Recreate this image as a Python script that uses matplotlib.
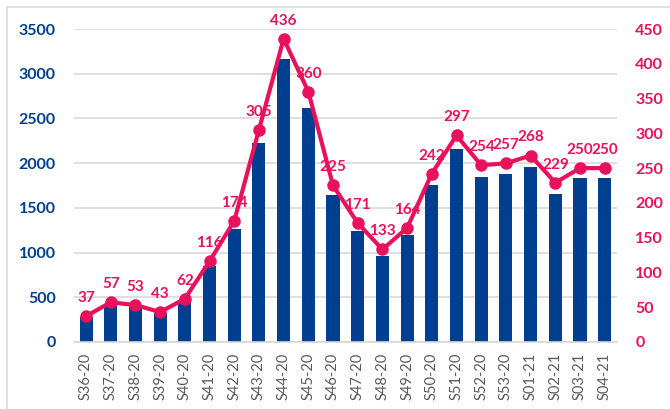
import matplotlib
matplotlib.use("Agg")
import matplotlib.pyplot as plt
from matplotlib.patches import Rectangle

categories = ["S36-20", "S37-20", "S38-20", "S39-20", "S40-20", "S41-20", "S42-20",
              "S43-20", "S44-20", "S45-20", "S46-20", "S47-20", "S48-20", "S49-20",
              "S50-20", "S51-20", "S52-20", "S53-20", "S01-21", "S02-21", "S03-21", "S04-21"]
bar_values = [280, 410, 390, 320, 450, 850, 1260, 2220, 3170, 2620, 1640, 1240, 965, 1200,
              1760, 2160, 1845, 1880, 1960, 1660, 1830, 1830]
line_values = [37, 57, 53, 43, 62, 116, 174, 305, 436, 360, 225, 171, 133, 164,
               242, 297, 254, 257, 268, 229, 250, 250]
left_ticks = [0, 500, 1000, 1500, 2000, 2500, 3000, 3500]
right_ticks = [0, 50, 100, 150, 200, 250, 300, 350, 400, 450]

BLUE = "#003F8F"
RED = "#E8115B"
plt.rcParams['font.family'] = ['Lato', 'DejaVu Sans']

fig = plt.figure(figsize=(6.7, 4.09), dpi=100)
ax = fig.add_axes([0.110, 0.164, 0.811, 0.765])
x = list(range(len(categories)))
ax.bar(x, bar_values, width=0.53, color=BLUE, zorder=2)
ax.set_ylim(0, 3500)
ax.set_xlim(-0.5, len(categories) - 0.5)
ax.set_yticks(left_ticks)
ax.set_yticklabels([str(t) for t in left_ticks], fontweight='bold', color=BLUE, fontsize=11.5)
ax.set_xticks(x)
ax.set_xticklabels(categories, rotation=90, color="#595959", fontsize=10.5)
ax.grid(axis='y', color="#D9D9D9", linewidth=1.2, zorder=0)
for s in ["top", "right", "left"]:
    ax.spines[s].set_visible(False)
ax.spines["bottom"].set_color("#D9D9D9")
ax.spines["bottom"].set_linewidth(1.2)
ax.tick_params(axis='both', length=0)
ax.tick_params(axis='y', pad=13)
ax.tick_params(axis='x', pad=8)

ax2 = ax.twinx()
ax2.plot(x, line_values, color=RED, linewidth=3, marker='o', markersize=8, zorder=3)
ax2.set_ylim(0, 450)
ax2.set_yticks(right_ticks)
ax2.set_yticklabels([str(t) for t in right_ticks], fontweight='bold', color=RED, fontsize=11.5)
for s in ["top", "right", "left", "bottom"]:
    ax2.spines[s].set_visible(False)
ax2.tick_params(axis='y', length=0, pad=13)
for xi, v in zip(x, line_values):
    ax2.annotate(str(v), (xi, v), xytext=(0, 8), textcoords='offset points',
                 ha='center', va='bottom', color=RED, fontweight='bold', fontsize=11)

fig.patches.append(Rectangle((0.0105, -0.05), 1.05, 1.033, transform=fig.transFigure,
                             fill=False, edgecolor="#D9D9D9", linewidth=1.2))
fig.savefig("out.png", dpi=100)
